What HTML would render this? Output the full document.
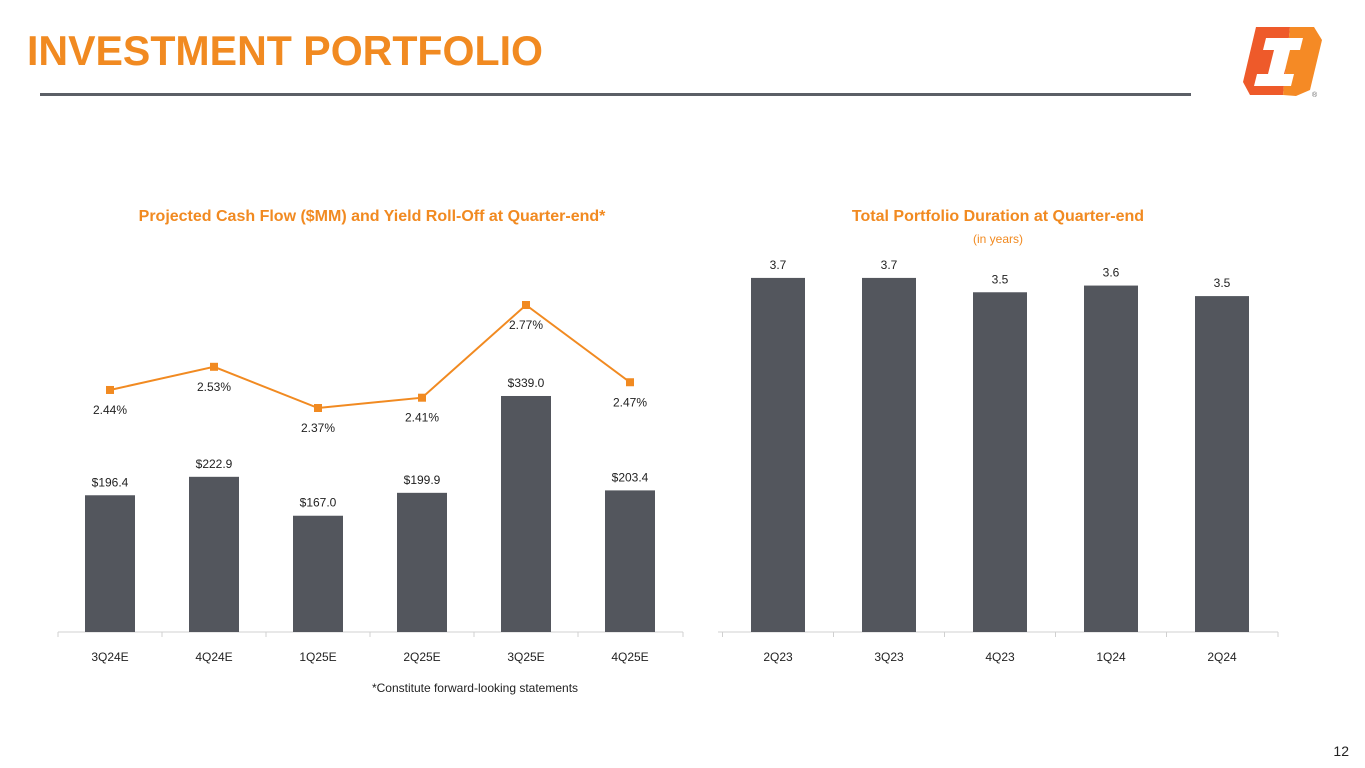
<!DOCTYPE html>
<html><head><meta charset="utf-8"><style>
html,body{margin:0;padding:0;background:#fff;}
svg{display:block;font-family:"Liberation Sans",sans-serif;}
</style></head><body>
<svg id="s" width="1365" height="768" viewBox="0 0 1365 768">
<text x="27" y="65" font-size="42" font-weight="bold" fill="#F18A21" textLength="516" lengthAdjust="spacingAndGlyphs">INVESTMENT PORTFOLIO</text>
<rect x="40" y="93" width="1151" height="3" fill="#5b5f66"/>
<g>
<path d="M1256 27 L1290 27 L1283 95 L1250 95 L1243 82 Z" fill="#EE5A2A"/>
<path d="M1290 27 L1314 27 L1322 40 L1310 90 L1296 96 L1283 95 Z" fill="#F58A25"/>
<path d="M1266 38 L1303 38 L1300 50 L1290 50 L1284 74 L1294 74 L1291 86 L1254 86 L1257 74 L1268 74 L1274 50 L1263 50 Z" fill="#fff"/>
<text x="1312" y="97" font-size="7" fill="#666">®</text>
</g>
<text x="372" y="221" text-anchor="middle" font-size="16" font-weight="bold" fill="#F18A21">Projected Cash Flow ($MM) and Yield Roll-Off at Quarter-end*</text>
<text x="998" y="221" text-anchor="middle" font-size="16" font-weight="bold" fill="#F18A21">Total Portfolio Duration at Quarter-end</text>
<text x="998" y="243" text-anchor="middle" font-size="12" fill="#F18A21">(in years)</text>
<text x="475" y="692" text-anchor="middle" font-size="12" fill="#222">*Constitute forward-looking statements</text>
<text x="1349" y="756" text-anchor="end" font-size="14" fill="#222">12</text>
<g id="left"></g><g id="right"></g>
</svg>
<script>
const cfCategories=["3Q24E","4Q24E","1Q25E","2Q25E","3Q25E","4Q25E"];
const cfValues=[196.4,222.9,167.0,199.9,339.0,203.4];
const yieldValues=[2.44,2.53,2.37,2.41,2.77,2.47];
const durCategories=["2Q23","3Q23","4Q23","1Q24","2Q24"];
const durValues=[3.70,3.70,3.55,3.62,3.51];
const durLabels=["3.7","3.7","3.5","3.6","3.5"];

const NS="http://www.w3.org/2000/svg";
function mk(p,t,a){const e=document.createElementNS(NS,t);for(const k in a)e.setAttribute(k,a[k]);p.appendChild(e);return e;}
const base=632;
// left chart
const L=document.getElementById('left');
const lx=i=>110+i*104;
const ly=v=>base-v*0.6962;
const yy=v=>305+(2.77-v)*257.5;
const ax=mk(L,'line',{x1:58,x2:683,y1:base,y2:base,stroke:'#d0d0d0','stroke-width':1});


cfCategories.forEach((c,i)=>{
  const t=mk(L,'line',{x1:lx(i)-52,x2:lx(i)-52,y1:base,y2:base+5,stroke:'#d0d0d0'});
  
  
  const b=mk(L,'rect',{x:lx(i)-25,y:ly(cfValues[i]),width:50,height:base-ly(cfValues[i]),fill:'#53565d'});
  
  
  const bl=mk(L,'text',{x:lx(i),y:ly(cfValues[i])-9,'text-anchor':'middle','font-size':12,fill:'#222'});
  bl.textContent='$'+cfValues[i].toFixed(1);
  
  
  const xl=mk(L,'text',{x:lx(i),y:661,'text-anchor':'middle','font-size':12,fill:'#222'});
  xl.textContent=c;
  
  
});
const lt=mk(L,'line',{x1:683,x2:683,y1:base,y2:base+5,stroke:'#d0d0d0'});


const pl=mk(L,'polyline',{points:yieldValues.map((v,i)=>lx(i)+','+yy(v)).join(' '),fill:'none',stroke:'#F18A21','stroke-width':2});


yieldValues.forEach((v,i)=>{
  const m=mk(L,'rect',{x:lx(i)-4,y:yy(v)-4,width:8,height:8,fill:'#F18A21'});
  
  
  const t=mk(L,'text',{x:lx(i),y:yy(v)+24,'text-anchor':'middle','font-size':12,fill:'#222'});
  t.textContent=v.toFixed(2)+'%';
  
  
});
// right chart
const R=document.getElementById('right');
const rx=i=>778+i*111;
const ry=v=>base-v*95.7;
const ax2=mk(R,'line',{x1:718,x2:1278,y1:base,y2:base,stroke:'#d0d0d0','stroke-width':1});


durCategories.forEach((c,i)=>{
  const t=mk(R,'line',{x1:rx(i)-55.5,x2:rx(i)-55.5,y1:base,y2:base+5,stroke:'#d0d0d0'});
  
  
  const b=mk(R,'rect',{x:rx(i)-27,y:ry(durValues[i]),width:54,height:base-ry(durValues[i]),fill:'#53565d'});
  
  
  const bl=mk(R,'text',{x:rx(i),y:ry(durValues[i])-9,'text-anchor':'middle','font-size':12,fill:'#222'});
  bl.textContent=durLabels[i];
  
  
  const xl=mk(R,'text',{x:rx(i),y:661,'text-anchor':'middle','font-size':12,fill:'#222'});
  xl.textContent=c;
  
  
});
const rt=mk(R,'line',{x1:1278,x2:1278,y1:base,y2:base+5,stroke:'#d0d0d0'});


</script>
</body></html>
